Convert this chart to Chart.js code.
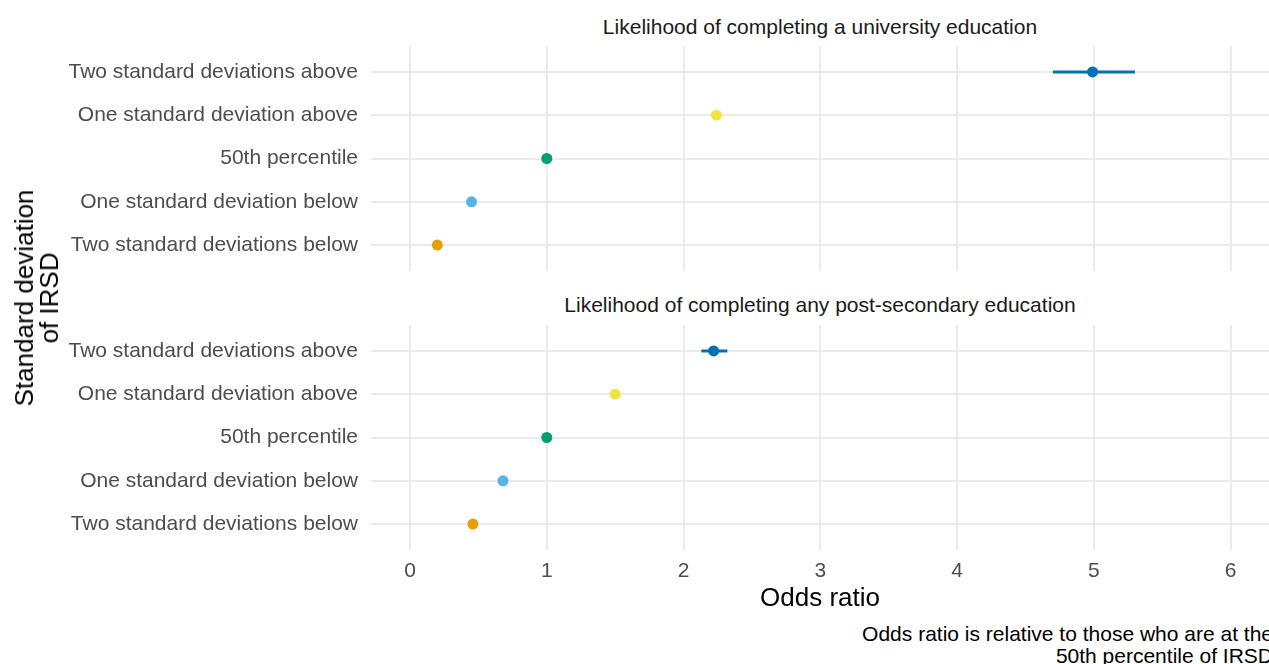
<!DOCTYPE html>
<html>
<head>
<meta charset="utf-8">
<script src="https://cdn.jsdelivr.net/npm/chart.js@4.4.1/dist/chart.umd.min.js"></script>
<style>
  body { margin: 0; background: #fff; font-family: "Liberation Sans", Arial, sans-serif; }
  #wrap { position: relative; width: 1269px; height: 664px; overflow: hidden; }
  .panel { position: absolute; left: 0; width: 1269px; }
  .strip { position: absolute; left: 371px; width: 898px; text-align: center; font-size: 21px; line-height: 24px; color: #1a1a1a; }
  #xtitle { position: absolute; left: 371px; width: 898px; top: 582px; text-align: center; font-size: 26px; line-height: 30px; color: #000; }
  #ytitle { position: absolute; left: 37px; top: 298px; transform: translate(-50%, -50%) rotate(-90deg);
            text-align: center; font-size: 26px; line-height: 25px; color: #000; white-space: nowrap; }
  #caption { position: absolute; right: -4px; top: 623px; text-align: right; font-size: 21px; line-height: 22px; color: #000; white-space: nowrap; }
</style>
</head>
<body>
<div id="wrap">
  <div class="strip" style="top:15px">Likelihood of completing a university education</div>
  <div class="panel" style="top:46px;height:225px"><canvas id="uni"></canvas></div>
  <div class="strip" style="top:293px">Likelihood of completing any post-secondary education</div>
  <div class="panel" style="top:325px;height:260px"><canvas id="post"></canvas></div>
  <div id="xtitle">Odds ratio</div>
  <div id="ytitle">Standard deviation<br>of IRSD</div>
  <div id="caption">Odds ratio is relative to those who are at the<br>50th percentile of IRSD</div>
</div>
<script>
const categories = [
    'Two standard deviations above',
    'One standard deviation above',
    '50th percentile',
    'One standard deviation below',
    'Two standard deviations below',
];
const uniOdds  = [4.99, 2.24, 1.00, 0.45, 0.20];
const uniLower = [4.70, 2.21, 1.00, 0.43, 0.19];
const uniUpper = [5.30, 2.27, 1.00, 0.47, 0.21];
const postOdds  = [2.22, 1.50, 1.00, 0.68, 0.46];
const postLower = [2.13, 1.47, 1.00, 0.66, 0.44];
const postUpper = [2.32, 1.53, 1.00, 0.70, 0.48];
const xTicks = [0, 1, 2, 3, 4, 5, 6];

const POINT_COLORS = [
    '#0072B2', // blue
    '#F0E442', // yellow
    '#009E73', // green
    '#56B4E9', // sky blue
    '#E69F00', // orange
];
const GRID = '#ebebeb';
const FONT = '"Liberation Sans", Arial, sans-serif';

// horizontal CI bars, drawn under the points
const errorBars = {
    id: 'errorBars',
    beforeDatasetsDraw(chart) {
        const { ctx, scales: { x, y } } = chart;
        const ds = chart.data.datasets[0];
        ctx.save();
        ctx.lineWidth = 3;
        ds.data.forEach((p, i) => {
            ctx.strokeStyle = POINT_COLORS[i];
            ctx.beginPath();
            ctx.moveTo(x.getPixelForValue(ds.lower[i]), y.getPixelForValue(p.y));
            ctx.lineTo(x.getPixelForValue(ds.upper[i]), y.getPixelForValue(p.y));
            ctx.stroke();
        });
        ctx.restore();
    },
};

function noPadding(s) {
    s.paddingTop = 0;
    s.paddingBottom = 0;
    s.paddingLeft = 0;
    s.paddingRight = 0;
}

function makePanel(id, odds, lower, upper, showX) {
    new Chart(document.getElementById(id), {
        type: 'scatter',
        data: {
            datasets: [{
                data: odds.map((v, i) => ({ x: v, y: i + 1 })),
                lower,
                upper,
                pointRadius: 5.5,
                pointBackgroundColor: POINT_COLORS,
                pointBorderWidth: 0,
            }],
        },
        options: {
            responsive: true,
            maintainAspectRatio: false,
            animation: false,
            layout: { padding: 0, autoPadding: false },
            plugins: { legend: { display: false }, tooltip: { enabled: false } },
            scales: {
                x: {
                    type: 'linear',
                    min: -0.285,
                    max: 6.28,
                    afterBuildTicks: (s) => { s.ticks = xTicks.map((v) => ({ value: v })); },
                    afterFit: (s) => { noPadding(s); s.height = showX ? 35 : 0; },
                    border: { display: false },
                    grid: { color: GRID, lineWidth: 2, drawTicks: false },
                    ticks: {
                        display: showX,
                        padding: 9,
                        color: '#4d4d4d',
                        font: { size: 21, family: FONT },
                    },
                },
                y: {
                    type: 'linear',
                    reverse: true,
                    min: 0.4,
                    max: 5.6,
                    afterBuildTicks: (s) => { s.ticks = categories.map((c, i) => ({ value: i + 1 })); },
                    afterFit: (s) => { noPadding(s); s.width = 371; },
                    border: { display: false },
                    grid: { color: GRID, lineWidth: 2, drawTicks: false },
                    ticks: {
                        padding: 13,
                        color: '#4d4d4d',
                        font: { size: 21, family: FONT },
                        callback: (v) => categories[v - 1],
                    },
                },
            },
        },
        plugins: [errorBars],
    });
}

makePanel('uni', uniOdds, uniLower, uniUpper, false);
makePanel('post', postOdds, postLower, postUpper, true);
</script>
</body>
</html>
